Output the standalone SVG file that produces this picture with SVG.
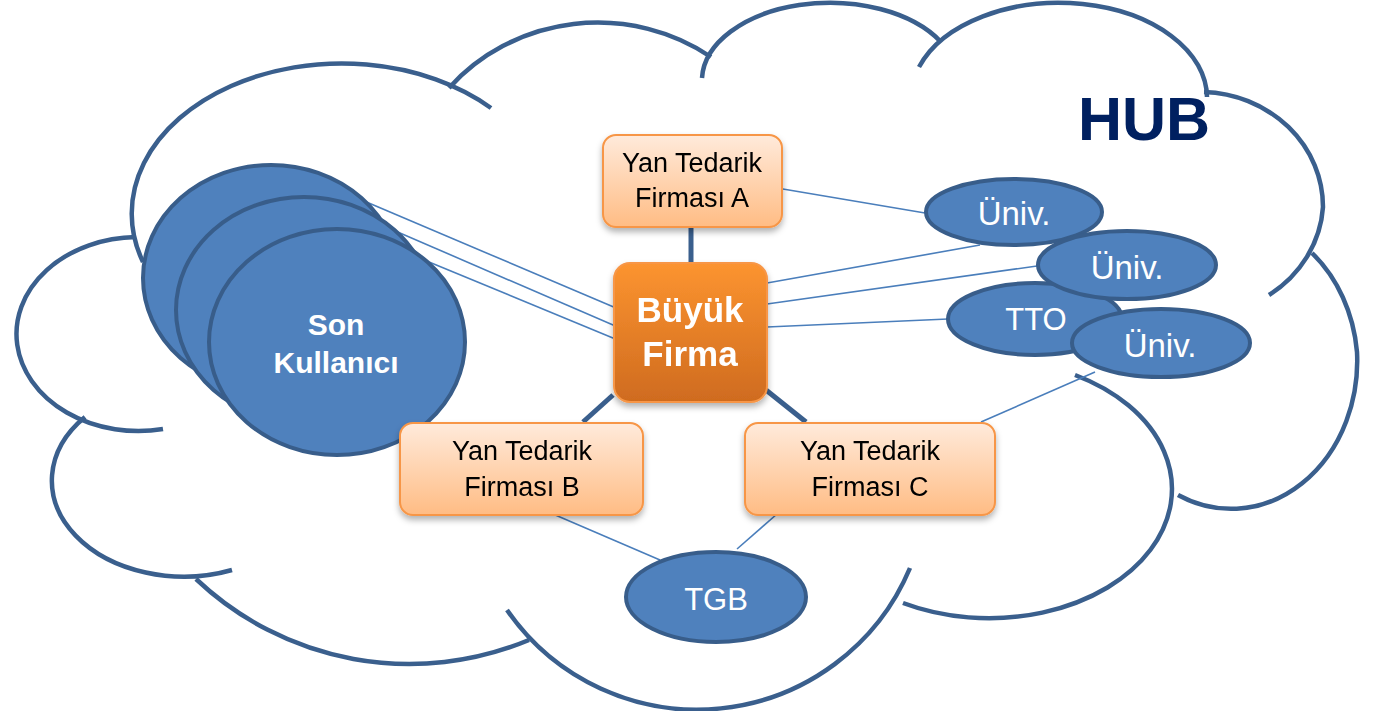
<svg xmlns="http://www.w3.org/2000/svg" width="1380" height="711" viewBox="0 0 1380 711">
<defs>
<linearGradient id="gSmall" x1="0" y1="0" x2="0" y2="1">
<stop offset="0" stop-color="#FFEADB"/>
<stop offset="1" stop-color="#FFBC84"/>
</linearGradient>
<linearGradient id="gBig" x1="0" y1="0" x2="0" y2="1">
<stop offset="0" stop-color="#FC9430"/>
<stop offset="1" stop-color="#CF6B1F"/>
</linearGradient>
<filter id="sh" x="-20%" y="-20%" width="140%" height="150%">
<feDropShadow dx="0" dy="4" stdDeviation="3" flood-color="#000" flood-opacity="0.3"/>
</filter>
<style>
.cloud{fill:none;stroke:#3A5F8D;stroke-width:4.5}
.thin{stroke:#4A7EBB;stroke-width:1.6;fill:none}
.thick{stroke:#3A5F8D;stroke-width:5;fill:none}
.ell{fill:#4F81BD;stroke:#385D8A;stroke-width:4}
.box{fill:url(#gSmall);stroke:#F79646;stroke-width:2}
.big{fill:url(#gBig);stroke:#F79646;stroke-width:2}
.bt{font-family:"Liberation Sans",Arial,sans-serif;font-size:27px;fill:#000;text-anchor:middle}
.wt{font-family:"Liberation Sans",Arial,sans-serif;font-size:31px;fill:#fff;text-anchor:middle}
.wu{font-family:"Liberation Sans",Arial,sans-serif;font-size:33px;fill:#fff;text-anchor:middle}
.wb{font-family:"Liberation Sans",Arial,sans-serif;font-weight:bold;fill:#fff;text-anchor:middle}
</style>
</defs>
<rect width="1380" height="711" fill="#fff"/>
<g id="cloud">
<path class="cloud" d="M 143 262 A 210 150 0 0 1 491 108"/>
<path class="cloud" d="M 449 88 A 195 185 0 0 1 711 57"/>
<path class="cloud" d="M 702 78 A 128 78 0 0 1 941 42"/>
<path class="cloud" d="M 919 67 A 148 95 0 0 1 1207 97"/>
<path class="cloud" d="M 1204 92 A 123 115 0 0 1 1323 207 A 123 115 0 0 1 1269 295"/>
<path class="cloud" d="M 1312 253 A 126 148 0 0 1 1357 352 A 126 148 0 0 1 1178 495"/>
<path class="cloud" d="M 1075 375 A 177 125 0 1 1 903 603"/>
<path class="cloud" d="M 910 568 A 231 231 0 0 1 507 610"/>
<path class="cloud" d="M 529 640 A 310 310 0 0 1 196 579"/>
<path class="cloud" d="M 232 570 A 132 96 0 0 1 85 417"/>
<path class="cloud" d="M 136 237 A 122 97 0 1 0 163 429"/>
</g>
<text x="1078" y="140" font-family="Liberation Sans,Arial,sans-serif" font-weight="bold" font-size="61" fill="#002060">HUB</text>
<g id="connectors">
<line class="thin" x1="357" y1="198" x2="616" y2="308"/>
<line class="thin" x1="393" y1="230" x2="620" y2="328"/>
<line class="thin" x1="429" y1="262" x2="625" y2="343"/>
<line class="thick" x1="691" y1="226" x2="691" y2="264"/>
<line class="thick" x1="613" y1="395" x2="583" y2="422"/>
<line class="thick" x1="766" y1="390" x2="806" y2="422"/>
<line class="thin" x1="777" y1="188" x2="925" y2="213"/>
<line class="thin" x1="767" y1="283" x2="980" y2="245"/>
<line class="thin" x1="767" y1="304" x2="1037" y2="266"/>
<line class="thin" x1="767" y1="327" x2="948" y2="319"/>
<line class="thin" x1="981" y1="422" x2="1095" y2="372"/>
<line class="thin" x1="553" y1="514" x2="660" y2="560"/>
<line class="thin" x1="777" y1="514" x2="737" y2="549"/>
</g>
<g id="son-kullanici">
<ellipse class="ell" cx="271" cy="278" rx="128" ry="113"/>
<ellipse class="ell" cx="304" cy="310" rx="128" ry="113"/>
<ellipse class="ell" cx="337" cy="342" rx="128" ry="113"/>
<text class="wb" font-size="30" x="336" y="335">Son</text>
<text class="wb" font-size="30" x="336" y="373">Kullanıcı</text>
</g>
<g id="buyuk-firma" filter="url(#sh)">
<rect class="big" x="614" y="263" width="153" height="139" rx="16"/>
<text class="wb" font-size="35" x="690" y="322">Büyük</text>
<text class="wb" font-size="35" x="690" y="366">Firma</text>
</g>
<g id="firma-a" filter="url(#sh)">
<rect class="box" x="603" y="135" width="179" height="92" rx="13"/>
<text class="bt" x="692" y="172">Yan Tedarik</text>
<text class="bt" x="692" y="207">Firması A</text>
</g>
<g id="firma-b" filter="url(#sh)">
<rect class="box" x="400" y="423" width="243" height="92" rx="13"/>
<text class="bt" x="522" y="460">Yan Tedarik</text>
<text class="bt" x="522" y="496">Firması B</text>
</g>
<g id="firma-c" filter="url(#sh)">
<rect class="box" x="745" y="423" width="250" height="92" rx="13"/>
<text class="bt" x="870" y="460">Yan Tedarik</text>
<text class="bt" x="870" y="496">Firması C</text>
</g>
<g id="tgb">
<ellipse class="ell" cx="716" cy="597" rx="90" ry="45"/>
<text class="wt" x="716" y="610">TGB</text>
</g>
<g id="univ-1">
<ellipse class="ell" cx="1014" cy="212" rx="88" ry="33"/>
<text class="wu" x="1014" y="225">Üniv.</text>
</g>
<g id="tto">
<ellipse class="ell" cx="1035" cy="319" rx="87" ry="36"/>
<text class="wt" x="1036" y="330">TTO</text>
</g>
<g id="univ-2">
<ellipse class="ell" cx="1127" cy="265" rx="89" ry="34"/>
<text class="wu" x="1127" y="279">Üniv.</text>
</g>
<g id="univ-3">
<ellipse class="ell" cx="1161" cy="343" rx="89" ry="34"/>
<text class="wu" x="1160" y="357">Üniv.</text>
</g>
</svg>
